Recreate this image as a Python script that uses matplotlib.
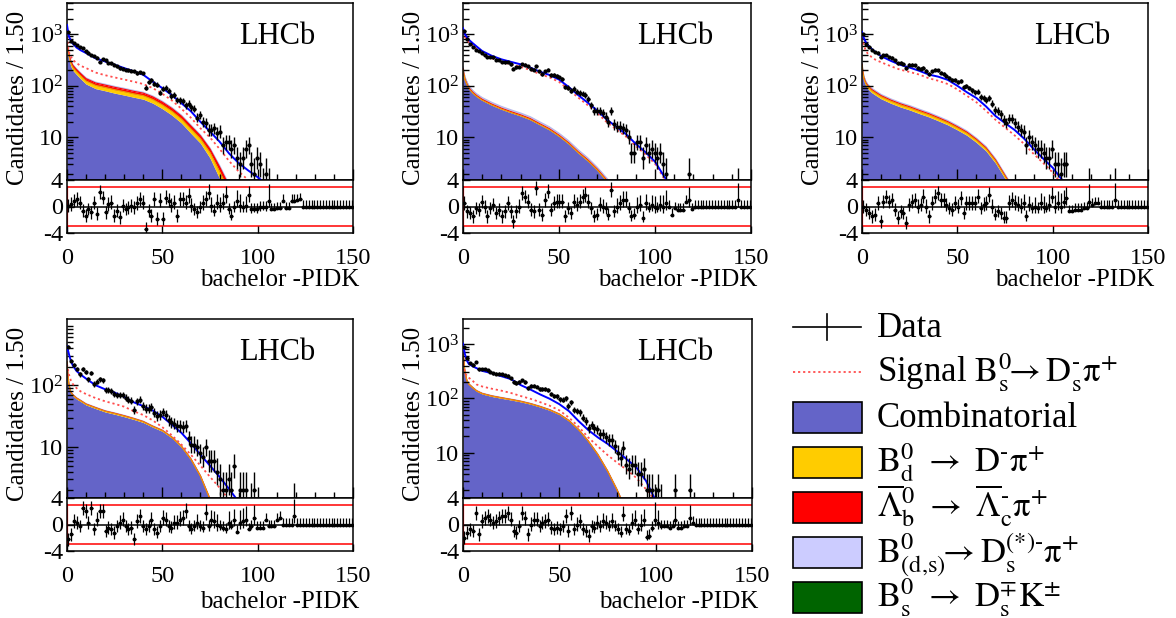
import matplotlib
matplotlib.use("Agg")
import matplotlib.pyplot as plt
import numpy as np
from matplotlib.patches import Rectangle
from matplotlib.lines import Line2D
from matplotlib.ticker import FixedLocator, FixedFormatter, MultipleLocator, LogLocator, NullFormatter

plt.rcParams['font.family'] = ['Liberation Serif', 'DejaVu Serif']
plt.rcParams['mathtext.fontset'] = 'stix'

W, H = 1176, 618
BIN = 1.5
NBINS = 100

# ---- data: counts per 1.5-wide bin of bachelor -PIDK (0..150) ----
counts1 = [1100, 750, 680, 620, 560, 530, 470, 440, 400, 380,
           350, 290, 330, 310, 275, 270, 255, 240, 220, 215,
           205, 200, 195, 190, 178, 182, 175, 92, 120, 130,
           110, 105, 74, 88, 92, 80, 64, 66, 54, 52,
           50, 42, 45, 38, 36, 24, 27, 20, 19, 14,
           14, 15, 12, 13, 7, 8, 8, 6, 7, 4,
           3, 4, 6, 7, 3, 2, 4, 3, 1, 2,
           1, 0, 0, 0, 0, 0, 0, 0, 0, 0,
           0, 0, 0, 0, 0, 0, 0, 0, 0, 0,
           0, 0, 0, 0, 0, 0, 0, 0, 0, 0]
counts2 = [1150, 820, 650, 560, 500, 470, 440, 400, 360, 365,
           355, 320, 315, 290, 285, 290, 260, 215, 230, 235,
           265, 255, 240, 215, 205, 240, 190, 170, 190, 205,
           160, 160, 155, 145, 135, 95, 92, 80, 88, 76,
           72, 70, 66, 55, 42, 33, 32, 33, 30, 25,
           20, 33, 18, 16, 16, 15, 14, 10, 5, 5,
           8, 8, 4, 7, 5, 6, 5, 4, 5, 3,
           2, 0, 0, 0, 0, 0, 0, 0, 2, 0,
           0, 0, 0, 0, 0, 0, 0, 0, 0, 0,
           0, 0, 0, 0, 0, 1, 0, 0, 0, 0]
counts3 = [1000, 640, 560, 500, 450, 440, 360, 390, 390, 360,
           350, 310, 270, 280, 265, 220, 255, 255, 250, 225,
           215, 225, 195, 170, 190, 205, 200, 180, 170, 155,
           140, 130, 130, 120, 122, 95, 100, 90, 82, 75,
           76, 60, 58, 54, 58, 45, 34, 33, 28, 22,
           19, 23, 23, 19, 16, 14, 13, 7, 10, 8,
           7, 6, 6, 5, 4, 4, 6, 3, 3, 2,
           3, 3, 0, 0, 0, 0, 0, 0, 0, 1,
           0, 0, 0, 0, 0, 0, 0, 0, 1, 0,
           0, 0, 0, 0, 0, 0, 0, 0, 0, 0]
counts4 = [420, 250, 210, 180, 150, 180, 165, 125, 160, 105,
           115, 125, 120, 85, 85, 80, 72, 70, 70, 70,
           63, 58, 56, 40, 55, 58, 46, 42, 42, 44,
           36, 32, 33, 37, 33, 27, 25, 24, 22, 22,
           21, 22, 14, 11, 11, 10, 8, 7, 10, 6,
           6, 6, 4, 3, 2, 2, 3, 2, 5, 0,
           2, 2, 2, 0, 1, 2, 0, 0, 0, 0,
           0, 0, 0, 0, 0, 0, 0, 0, 0, 1,
           0, 0, 0, 0, 0, 0, 0, 0, 0, 0,
           0, 0, 0, 0, 0, 0, 0, 0, 0, 0]
counts5 = [900, 560, 450, 420, 460, 340, 350, 345, 335, 310,
           290, 285, 285, 275, 265, 260, 235, 200, 190, 200,
           215, 200, 155, 170, 172, 165, 150, 150, 148, 140,
           120, 110, 108, 96, 95, 100, 72, 85, 60, 58,
           55, 44, 38, 28, 32, 28, 27, 22, 22, 19,
           17, 17, 13, 10, 8, 12, 6, 5, 6, 6,
           4, 4, 5, 2, 2, 2, 1, 2, 1, 0,
           0, 0, 0, 2, 0, 0, 0, 0, 2, 0,
           0, 0, 0, 0, 0, 0, 0, 0, 0, 0,
           0, 0, 0, 0, 0, 0, 0, 0, 0, 0]

# ---- pulls per bin ----
pulls1 = [0.1, 0.35, 0.85, 1.1, 0.6, -0.65, -1.4, -0.4, -0.9, 0.6,
          -1.15, 2.2, 1.35, -0.9, 0.35, 0.6, -1.4, -0.65, -1.65, 0.1,
          -0.4, -0.15, 0.1, -0.15, 0.5, 1.1, 0.6, -3.4, -0.65, -1.4,
          1.1, -1.9, 0.85, -1.9, 1.35, 0.85, 0.1, 0.6, -1.4, 1.1,
          1.1, 0.6, 1.6, 0.1, -0.4, -0.9, -0.15, 0.5, 1.1, 2.1,
          0.1, -0.65, 0.6, 0.1, 0.6, 1.6, -0.4, -1.4, -0.15, 0.85,
          0.1, -0.15, 0.1, 1.7, -0.4, -0.4, -0.4, -0.15, -0.15, -0.15,
          0.85, -0.4, -0.4, -0.3, -0.3, 0.85, -0.25, -0.25, 0.85, 0.85,
          0.95, 1.1, 0, 0, 0, 0, 0, 0, 0, 0,
          0, 0, 0, 0, 0, 0, 0, 0, 0, 0]
pulls2 = [0.5, -0.75, -1, -1.5, -0.25, -0.5, 0.75, 0, -1.5, -0.25,
          0.25, -1, -0.5, -1.5, -0.75, 0.5, -0.75, -2.25, -0.75, 0,
          2.0, 1.5, 0.75, -0.5, -0.75, 2.75, -0.5, -1.25, 1.0, 2.25,
          -0.5, 0.5, 0.75, 0.75, 0.75, -1.5, -0.25, -1, 0.75, 0.25,
          0.75, 1.5, 1.75, 0.75, -0.25, -1.5, -1.25, 0.25, 0, -0.25,
          -1.25, 2.5, -0.75, 0, 0.5, 1, 1, -0.25, -1.5, -1.25,
          0, 0.25, -1.75, 0.5, -0.25, 0.25, 0, -0.25, 0.25, 0,
          0.5, 0, -1.25, -0.25, -0.5, -0.5, -0.5, 0.75, 1.0, -0.4,
          0, 0, 0, 0, 0, 0, 0, 0, 0, 0,
          0, 0, 0, 0, 0, 1.0, 0, 0, 0, 0]
pulls3 = [0, -0.5, -1, -1.5, -1.25, 0.5, -2.25, 0.75, 1.5, 0.75,
          1, -0.5, -1.75, -0.75, -1, -2.5, 0.25, 0.75, 1, 0,
          0.25, 1.5, 0, -1.5, 0.5, 1.5, 2, 1, 1, 0.25,
          -0.25, -0.5, 0.5, 0, 1.25, -1, 0.5, 0.5, 0.5, 0.5,
          1.5, -0.25, 0.25, 0.5, 1.75, 0, -1.25, -0.75, -1, -1.75,
          -1.75, 0.5, 1, 0.5, 0.25, 0, 0.5, -1.5, 0.25, -0.25,
          0, -0.25, 0.5, 0, -0.25, 0.25, 1.5, 0, 0.5, 0,
          0.75, 1.25, -0.75, -0.75, -0.5, -0.5, -0.5, -0.25, -0.25, 0.75,
          0.25, 0.5, 0.5, 0, 0, 0, 0, 0, 1.0, 0,
          0, 0, 0, 0, 0, 0, 0, 0, 0, 0]
pulls4 = [-2.25, -1.5, 0.5, 0.25, -0.25, 2.5, 2, 0.25, 2.5, -0.75,
          0.75, 2, 2, -1, -0.5, -0.75, -1.25, -0.25, 0.25, 0.75,
          -0.25, -0.75, -0.5, -2.25, 0.5, 1.25, -0.25, -0.75, -0.25, 0.75,
          -0.75, -1.25, -0.25, 1, 0.75, -0.25, -0.5, 0.25, 0.25, 0.75,
          1, 2, -0.25, -0.75, -0.25, 0.25, -0.25, -0.5, 1.75, -0.25,
          0.75, 0.5, 0, -0.25, -0.5, -0.75, 0.25, -0.25, 0.75, -1.15,
          0.25, 0.5, 0.75, -0.75, -0.25, 1, -0.5, -0.5, -0.5, 0.75,
          -0.25, -0.25, -0.25, 0.75, 1, 0, 0, 0, 0, 1.25,
          0, 0, 0, 0, 0, 0, 0, 0, 0, 0,
          0, 0, 0, 0, 0, 0, 0, 0, 0, 0]
pulls5 = [-2, -1.25, -0.75, -1, 1.75, -1.5, 0.5, 1, 1.25, 0.75,
          0.25, 0.5, 1, 1.25, 1.25, 1.75, 0.75, -1, -1.25, -0.25,
          1.75, 1, -1.5, 0, 0.75, 0.75, -0.25, 0.25, 0.5, 0.75,
          -0.5, -0.75, -0.5, -0.75, -0.25, 1.25, -1, 1.75, -0.75, 0,
          0.5, -0.75, -1, -1.75, -0.25, -0.5, 0.25, -0.25, 0.5, 0.25,
          -0.25, 0.5, -0.25, -0.75, -1.25, 1.5, -0.75, -1, 0.25, 0.75,
          -0.75, 0, 0.75, -1.85, -1.75, -0.5, 0.75, 0.25, -0.25, -0.25,
          -0.25, -0.5, -0.25, 0.75, -0.5, -0.5, -0.25, -0.25, 1, 0.25,
          0, 0, 0, 0, 0, 0, 0, 0, 0, 0,
          0, 0, 0, 0, 0, 0, 0, 0, 0, 0]

# ---- fit model curves, sampled at xg ----
xg = [0, 0.5, 1, 2, 3, 5, 7, 10, 15, 20, 25, 30, 35, 40, 45, 50, 55, 60,
      65, 70, 75, 80, 85, 90, 95, 100, 105, 110]

fit1 = [1500, 1150, 900, 760, 660, 550, 490, 430, 340, 295, 255, 220, 190, 163, 120, 90, 66, 46, 32, 20, 13, 8.3, 4.9, 3.2, 2.3, 1.7, 1.2, 0.8]
sig1 = [890, 600, 450, 370, 320, 275, 245, 220, 180, 160, 145, 132, 120, 108, 90, 70, 52, 36, 24, 15, 10, 6, 3.5, 2.2, 1.5, 1.0, 0.6, 0.4]
comb1 = [575, 420, 330, 240, 200, 165, 138, 108, 88, 80, 72, 66, 60, 55, 46, 36, 27, 19, 12, 7.7, 4.0, 1.6, 0.6, 0.3, 0.15, 0.08, 0.04, 0.02]
bd1 = [70, 55, 45, 34, 28, 23, 20, 16, 14, 13, 12, 11, 10, 9.5, 8.3, 6.8, 5.2, 3.8, 2.6, 1.7, 1.1, 0.6, 0.3, 0.12, 0.05, 0.02, 0.01, 0]
lb1 = [50, 40, 33, 26, 22, 18, 16, 13, 11, 10, 9.3, 8.6, 8, 7.4, 6.5, 5.3, 4.1, 3, 2, 1.3, 0.85, 0.5, 0.25, 0.1, 0.04, 0.02, 0.01, 0]
dsst1 = [25, 18, 14, 10, 8.5, 7, 6, 5, 4.4, 4, 3.7, 3.4, 3.1, 2.9, 2.5, 2.1, 1.6, 1.2, 0.8, 0.5, 0.3, 0.18, 0.09, 0.04, 0.02, 0.01, 0, 0]
dsk1 = [15, 8, 4, 2, 1.2, 0.7, 0.5, 0.35, 0.25, 0.2, 0.18, 0.16, 0.14, 0.12, 0.1, 0.08, 0.06, 0.04, 0.03, 0.02, 0.01, 0, 0, 0, 0, 0, 0, 0]

fit2 = [1300, 1150, 1000, 870, 780, 670, 580, 470, 380, 325, 290, 260, 225, 188, 162, 132, 95, 66, 47, 33, 22, 16, 11.5, 7.5, 5.2, 3.4, 1.7, 1.0]
sig2 = [1100, 990, 880, 780, 700, 600, 520, 420, 340, 290, 260, 233, 202, 168, 146, 119, 85, 59, 42, 29.5, 19.5, 14.2, 10.3, 6.8, 4.7, 3.1, 1.55, 0.9]
comb2 = [205, 160, 130, 105, 88, 72, 62, 52, 42, 35, 30, 26, 22, 17.5, 14, 10.5, 7.5, 5, 3.5, 2.3, 1.4, 0.8, 0.4, 0.2, 0.1, 0.05, 0.02, 0.01]
bd2 = [2, 1.5, 1.2, 1, 0.9, 0.7, 0.6, 0.5, 0.45, 0.4, 0.35, 0.3, 0.25, 0.2, 0.17, 0.13, 0.1, 0.07, 0.05, 0.03, 0.02, 0.01, 0, 0, 0, 0, 0, 0]
lb2 = [8, 6, 5, 4, 3.5, 2.8, 2.5, 2.1, 1.7, 1.4, 1.2, 1.05, 0.9, 0.7, 0.56, 0.42, 0.3, 0.2, 0.14, 0.09, 0.06, 0.03, 0.015, 0.008, 0, 0, 0, 0]
dsst2 = [16, 13, 11, 8.5, 7.5, 6, 5.2, 4.4, 3.6, 3, 2.6, 2.3, 2.0, 1.6, 1.3, 1.0, 0.72, 0.5, 0.33, 0.21, 0.13, 0.07, 0.035, 0.017, 0, 0, 0, 0]
dsk2 = [15, 8, 5, 3, 2, 1, 0.6, 0.4, 0.3, 0.25, 0.2, 0.18, 0.15, 0.12, 0.1, 0.08, 0.06, 0.04, 0.03, 0.02, 0.01, 0, 0, 0, 0, 0, 0, 0]

fit3 = [1100, 950, 830, 700, 620, 520, 450, 375, 305, 255, 225, 195, 165, 150, 130, 100, 75, 58, 40, 26, 19, 14, 9.5, 6, 3.9, 2.6, 1.5, 0.9]
sig3 = [850, 700, 600, 480, 420, 360, 320, 285, 240, 205, 185, 165, 140, 125, 108, 85, 64, 48, 33, 22, 15.5, 11, 7.5, 4.8, 3.2, 2.1, 1.2, 0.7]
comb3 = [230, 160, 125, 100, 88, 74, 66, 56, 46, 39, 34, 29, 25, 21, 17.5, 14, 11, 8, 5.5, 3.2, 1.6, 0.8, 0.4, 0.2, 0.1, 0.05, 0.02, 0.01]
bd3 = [20, 15, 12, 10, 8.8, 7.4, 6.6, 5.6, 4.6, 3.9, 3.4, 2.9, 2.5, 2.1, 1.75, 1.4, 1.1, 0.8, 0.55, 0.32, 0.16, 0.08, 0.04, 0.02, 0.01, 0, 0, 0]
lb3 = [10, 7.5, 6, 5, 4.4, 3.7, 3.3, 2.8, 2.3, 1.95, 1.7, 1.45, 1.25, 1.05, 0.88, 0.7, 0.55, 0.4, 0.28, 0.16, 0.08, 0.04, 0.02, 0.01, 0, 0, 0, 0]
dsst3 = [14, 10, 8, 6.5, 5.7, 4.8, 4.3, 3.6, 3, 2.5, 2.2, 1.9, 1.6, 1.35, 1.1, 0.9, 0.7, 0.5, 0.35, 0.2, 0.1, 0.05, 0.025, 0.012, 0, 0, 0, 0]
dsk3 = [12, 6, 4, 2.5, 1.6, 0.9, 0.6, 0.4, 0.3, 0.25, 0.2, 0.18, 0.15, 0.12, 0.1, 0.08, 0.06, 0.04, 0.03, 0.02, 0.01, 0, 0, 0, 0, 0, 0, 0]

fit4 = [430, 370, 320, 250, 210, 170, 150, 128, 100, 86, 76, 65, 53, 46, 39, 31, 23, 17, 11.5, 7.5, 5, 3.3, 2.1, 1.3, 0.8, 0.5, 0.3, 0.2]
sig4 = [220, 180, 150, 120, 105, 90, 80, 72, 62, 55, 50, 45, 38, 33, 27, 21, 15.5, 11, 7.5, 5, 3.3, 2.2, 1.4, 0.9, 0.5, 0.3, 0.2, 0.1]
comb4 = [230, 140, 100, 75, 68, 60, 55, 48, 42, 37, 34, 31, 28, 25, 21, 18, 14, 10, 6.2, 3.3, 1.4, 0.6, 0.25, 0.1, 0.05, 0.02, 0.01, 0.005]
bd4 = [6, 3.5, 2.5, 1.9, 1.7, 1.5, 1.4, 1.2, 1.05, 0.93, 0.85, 0.78, 0.7, 0.63, 0.53, 0.45, 0.35, 0.25, 0.16, 0.08, 0.035, 0.015, 0, 0, 0, 0, 0, 0]
lb4 = [2.5, 1.5, 1, 0.8, 0.7, 0.6, 0.55, 0.48, 0.42, 0.37, 0.34, 0.31, 0.28, 0.25, 0.21, 0.18, 0.14, 0.1, 0.06, 0.03, 0.014, 0.006, 0, 0, 0, 0, 0, 0]
dsst4 = [3, 2, 1.4, 1.1, 1, 0.9, 0.8, 0.7, 0.6, 0.55, 0.5, 0.45, 0.4, 0.36, 0.3, 0.26, 0.2, 0.15, 0.09, 0.05, 0.02, 0.01, 0, 0, 0, 0, 0, 0]
dsk4 = [4, 2, 1, 0.5, 0.3, 0.2, 0.15, 0.1, 0.08, 0.07, 0.06, 0.05, 0.04, 0.04, 0.03, 0.03, 0.02, 0.01, 0.01, 0, 0, 0, 0, 0, 0, 0, 0, 0]

fit5 = [1020, 800, 650, 500, 430, 390, 360, 320, 290, 255, 225, 175, 145, 118, 98, 78, 58, 38, 26, 19, 14.5, 10.5, 7.5, 5.3, 3.0, 1.3, 0.7, 0.4]
sig5 = [430, 350, 300, 260, 240, 210, 180, 165, 150, 138, 125, 110, 98, 85, 73, 60, 44, 30, 19, 13, 9, 6.5, 4.8, 3.4, 2.1, 1.3, 0.8, 0.5]
comb5 = [830, 450, 300, 210, 180, 155, 135, 120, 108, 100, 93, 86, 78, 69, 60, 50, 38, 26, 16, 9, 4.5, 2.0, 0.8, 0.3, 0.1, 0.05, 0.02, 0.01]
bd5 = [12, 7, 5, 3.5, 3, 2.5, 2.2, 2, 1.8, 1.65, 1.55, 1.45, 1.3, 1.15, 1, 0.83, 0.63, 0.43, 0.27, 0.15, 0.075, 0.033, 0.013, 0, 0, 0, 0, 0]
lb5 = [4, 2.5, 1.7, 1.2, 1, 0.85, 0.75, 0.67, 0.6, 0.55, 0.52, 0.48, 0.43, 0.38, 0.33, 0.28, 0.21, 0.14, 0.09, 0.05, 0.025, 0.011, 0, 0, 0, 0, 0, 0]
dsst5 = [10, 6, 4, 3, 2.6, 2.2, 1.9, 1.7, 1.5, 1.4, 1.3, 1.2, 1.1, 0.97, 0.84, 0.7, 0.53, 0.36, 0.22, 0.13, 0.06, 0.03, 0.01, 0, 0, 0, 0, 0]
dsk5 = [8, 4, 2, 1, 0.6, 0.4, 0.3, 0.25, 0.2, 0.18, 0.16, 0.14, 0.12, 0.1, 0.09, 0.07, 0.05, 0.04, 0.02, 0.01, 0, 0, 0, 0, 0, 0, 0, 0]

# y ranges of the main pads and the decade labels shown
ylims = [(1.5, 4000), (1.5, 4000), (1.5, 4000), (1.5, 1180), (1.45, 2900)]
ytick_vals = [[10, 100, 1000], [10, 100, 1000], [10, 100, 1000], [10, 100], [10, 100, 1000]]
ytick_lbls = {10: '10', 100: r'$\mathdefault{10^{2}}$', 1000: r'$\mathdefault{10^{3}}$'}

legend_labels = [
    'Data',
    r'Signal $\mathrm{B_s^0\!\!\rightarrow D_s^{\text{-}}\pi^{+}}$',
    'Combinatorial',
    r'$\mathrm{B_d^0}$ $\rightarrow$ $\mathrm{D^{\text{-}}\pi^{+}}$',
    r'$\overline{\Lambda}{}_\mathrm{b}^\mathrm{0}$ $\rightarrow$ $\overline{\Lambda}{}_\mathrm{c}^{\text{-}}\mathrm{\pi^{+}}$',
    r'$\mathrm{B^0_{\text{(d,s)}}\!\!\rightarrow D_s^{\text{(*)-}}\pi^{+}}$',
    r'$\mathrm{B_s^0}$ $\rightarrow$ $\mathrm{D_s^{\mp}K^{\pm}}$',
]

C_COMB = '#6464c8'
C_BD = '#ffcc00'
C_LB = '#ff0000'
C_DSST = '#ccccff'
C_DSK = '#006400'
C_FIT = '#0000ff'
C_SIG = '#ff4d4d'

panels = [
    dict(counts=counts1, pulls=pulls1, fit=fit1, sig=sig1, bkg=[comb1, bd1, lb1, dsst1, dsk1]),
    dict(counts=counts2, pulls=pulls2, fit=fit2, sig=sig2, bkg=[comb2, bd2, lb2, dsst2, dsk2]),
    dict(counts=counts3, pulls=pulls3, fit=fit3, sig=sig3, bkg=[comb3, bd3, lb3, dsst3, dsk3]),
    dict(counts=counts4, pulls=pulls4, fit=fit4, sig=sig4, bkg=[comb4, bd4, lb4, dsst4, dsk4]),
    dict(counts=counts5, pulls=pulls5, fit=fit5, sig=sig5, bkg=[comb5, bd5, lb5, dsst5, dsk5]),
]

# pad geometry in pixels: (left, right, top, main bottom, pull bottom)
boxes = [(67, 353, 3, 180, 233), (463, 751, 3, 180, 233), (862, 1148, 3, 180, 233),
         (67, 353, 319, 498, 551), (463, 752, 319, 498, 551)]

fig = plt.figure(figsize=(W / 100, H / 100), dpi=100)


def px_axes(left, right, top, bottom):
    return fig.add_axes([left / W, 1 - bottom / H, (right - left) / W, (bottom - top) / H])


centers = BIN * (np.arange(NBINS) + 0.5)
TICK_FS = 17.5
LABEL_FS = 18

for k, (p, box) in enumerate(zip(panels, boxes)):
    left, right, top, mbot, pbot = box
    ax = px_axes(left, right, top, mbot)
    axp = px_axes(left, right, mbot, pbot)

    # stacked backgrounds
    ax.set_yscale('log')
    xs = np.array(xg, dtype=float)
    lower = np.full(len(xs), 1e-3)
    tops = []
    for comp, col in zip(p['bkg'], [C_COMB, C_BD, C_LB, C_DSST, C_DSK]):
        upper = lower + np.array(comp, dtype=float)
        ax.fill_between(xs, np.maximum(lower, 1e-3), np.maximum(upper, 1e-3),
                        color=col, lw=0, zorder=1)
        tops.append(upper)
        lower = upper
    # thin outlines so narrow bands stay visible
    ax.plot(xs, tops[3], color='#b8b8e8', lw=0.9, zorder=1.2)
    ax.plot(xs, tops[2], color=C_LB, lw=0.8, zorder=1.3)
    ax.plot(xs, tops[1], color='#e8a000', lw=0.8, zorder=1.4)

    ax.plot(xs, p['sig'], color=C_SIG, ls=(0, (1.2, 1.6)), lw=1.3, zorder=2)
    ax.plot(xs, p['fit'], color=C_FIT, lw=1.4, zorder=3)

    n = np.array(p['counts'], dtype=float)
    m = n > 0
    elo = np.sqrt(n + 0.25) - 0.5
    ehi = np.sqrt(n + 0.25) + 0.5
    ax.errorbar(centers[m], n[m], yerr=[elo[m], ehi[m]], xerr=BIN / 2, fmt='o', ms=2.0,
                color='k', ecolor='k', elinewidth=1.0, capsize=0, zorder=4)

    ax.set_xlim(0, 150)
    ax.set_ylim(*ylims[k])
    ax.xaxis.set_major_locator(MultipleLocator(50))
    ax.xaxis.set_minor_locator(MultipleLocator(10))
    ax.yaxis.set_major_locator(FixedLocator(ytick_vals[k]))
    ax.yaxis.set_major_formatter(FixedFormatter([ytick_lbls[v] for v in ytick_vals[k]]))
    ax.yaxis.set_minor_locator(LogLocator(base=10, subs=np.arange(2, 10)))
    ax.yaxis.set_minor_formatter(NullFormatter())
    ax.tick_params(which='both', direction='in', labelbottom=False, labelsize=TICK_FS, pad=3, width=1)
    ax.tick_params(which='major', length=8)
    ax.tick_params(which='minor', length=4.5)
    for s in ax.spines.values():
        s.set_linewidth(1.1)

    ax.text(0.603, 1 - 41 / (mbot - top), 'LHCb', transform=ax.transAxes, fontsize=22,
            ha='left', va='baseline')
    fig.text((left - 49) / W, 1 - (top + 8) / H, 'Candidates / 1.50', rotation=90,
             fontsize=LABEL_FS, ha='center', va='top')

    # pull pad
    pv = np.array(p['pulls'], dtype=float)
    ratio = np.where(n > 0, ehi / np.where(elo > 0, elo, 1), 1.0)
    plo = np.where(n == 0, 0.0, np.where(pv >= 0, 1.0, 1.0 / ratio))
    phi = np.where(n == 0, 1.0, np.where(pv >= 0, ratio, 1.0))
    axp.plot([0, 150], [0, 0], color='k', lw=1.1, zorder=1)
    axp.plot([0, 150], [3, 3], color='#ff0000', lw=1.1, zorder=1)
    axp.plot([0, 150], [-3, -3], color='#ff0000', lw=1.1, zorder=1)
    axp.plot([0, 0], [-3, 3], color='#ff0000', lw=1.6, zorder=1)
    axp.errorbar(centers, pv, yerr=[plo, phi], xerr=BIN / 2, fmt='o', ms=1.8, color='k',
                 ecolor='k', elinewidth=0.9, capsize=0, zorder=3)
    axp.set_xlim(0, 150)
    axp.set_ylim(-4, 4)
    axp.xaxis.set_major_locator(MultipleLocator(50))
    axp.yaxis.set_major_locator(FixedLocator([-4, 0, 4]))
    axp.yaxis.set_major_formatter(FixedFormatter(['-4', '0', '4']))
    axp.tick_params(which='both', direction='in', labelsize=TICK_FS, length=5, width=1)
    axp.tick_params(axis='x', pad=11)
    axp.tick_params(axis='y', pad=3)
    for s in axp.spines.values():
        s.set_linewidth(1.1)

    fig.text((right + 6) / W, 1 - (pbot + (53 if k < 3 else 57)) / H, 'bachelor -PIDK',
             fontsize=LABEL_FS, ha='right', va='baseline')

# legend panel, drawn in figure pixels
lax = fig.add_axes([0, 0, 1, 1])
lax.set_xlim(0, W)
lax.set_ylim(H, 0)
lax.axis('off')
LEG_FS = 25
base = [337, 382, 427, 472, 517, 562, 607]
lax.add_line(Line2D([793, 861], [base[0] - 10] * 2, color='k', lw=1.2))
lax.add_line(Line2D([827, 827], [base[0] - 23, base[0] + 3], color='k', lw=1.2))
lax.add_line(Line2D([793, 861], [base[1] - 10] * 2, color=C_SIG, lw=1.3, ls=(0, (1.2, 1.6))))
for b, col in zip(base[2:], [C_COMB, C_BD, C_LB, C_DSST, C_DSK]):
    lax.add_patch(Rectangle((793, b - 25.5), 69, 31, facecolor=col, edgecolor='k', lw=1.2))
for b, lbl in zip(base, legend_labels):
    lax.text(877, b, lbl, fontsize=LEG_FS, ha='left', va='baseline')

fig.savefig('out.png', dpi=100)
